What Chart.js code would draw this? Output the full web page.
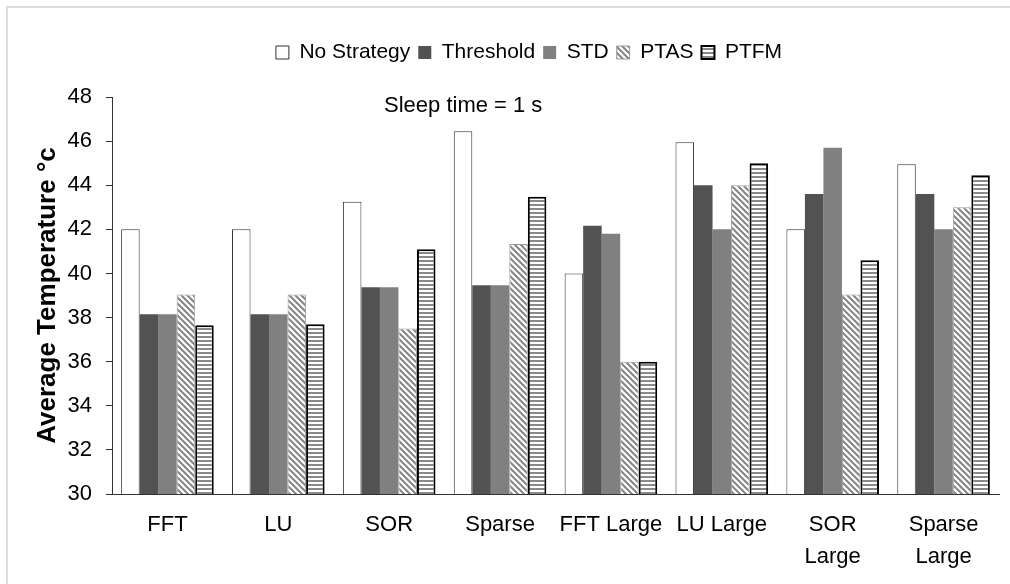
<!DOCTYPE html>
<html>
<head>
<meta charset="utf-8">
<title>Average Temperature</title>
<script src="https://cdn.jsdelivr.net/npm/chart.js@4.4.1/dist/chart.umd.min.js"></script>
<style>
    body { margin: 0; background: #fff; overflow: hidden; }
    #wrap { position: relative; width: 1010px; height: 584px; overflow: hidden; }
    #frame { position: absolute; left: 6px; top: 6px; width: 1100px; height: 700px;
             border-left: 2px solid #dcdcdc; border-top: 2px solid #dcdcdc; }
    canvas { position: absolute; left: 0; top: 0; }
</style>
</head>
<body>
<div id="wrap">
    <div id="frame"></div>
    <canvas id="chart" width="1010" height="584"></canvas>
</div>
<script>
// Data
const categories = ['FFT', 'LU', 'SOR', 'Sparse', 'FFT Large', 'LU Large', ['SOR', 'Large'], ['Sparse', 'Large']];
const seriesNames = ['No Strategy', 'Threshold', 'STD', 'PTAS', 'PTFM'];
const noStrategy = [42.0, 42.0, 43.25, 46.45, 40.0, 45.95, 42.0, 44.95];
const threshold = [38.15, 38.15, 39.37, 39.47, 42.16, 44.0, 43.6, 43.6];
const std = [38.15, 38.15, 39.37, 39.47, 41.8, 42.0, 45.7, 42.0];
const ptas = [39.05, 39.05, 37.5, 41.33, 36.0, 44.0, 39.05, 43.0];
const ptfm = [37.65, 37.7, 41.1, 43.48, 36.0, 45.0, 40.6, 44.45];
const yMin = 30;
const yMax = 48;
const yStep = 2;
const note = 'Sleep time = 1 s';

const FONT = '"Liberation Sans", Arial, sans-serif';
Chart.defaults.font.family = FONT;
Chart.defaults.color = '#000';

/**
 * Fill patterns
 */
function diagonalPattern() {
    const c = document.createElement('canvas');
    c.width = 6; c.height = 6;
    const g = c.getContext('2d');
    g.fillStyle = '#fff';
    g.fillRect(0, 0, 6, 6);
    g.strokeStyle = '#858585';
    g.lineWidth = 2;
    g.beginPath();
    g.moveTo(-1, -1); g.lineTo(7, 7);
    g.moveTo(-1, 5); g.lineTo(1, 7);
    g.moveTo(5, -1); g.lineTo(7, 1);
    g.stroke();
    return g.createPattern(c, 'repeat');
}

function horizontalPattern() {
    const c = document.createElement('canvas');
    c.width = 4; c.height = 4;
    const g = c.getContext('2d');
    g.fillStyle = '#fff';
    g.fillRect(0, 0, 4, 4);
    g.fillStyle = '#8a8a8a';
    g.fillRect(0, 0, 4, 2);
    return g.createPattern(c, 'repeat');
}

// "Sleep time" note inside the plot
const notePlugin = {
    id: 'note',
    afterDraw(chart) {
        const { ctx, chartArea } = chart;
        ctx.save();
        ctx.font = '22px ' + FONT;
        ctx.fillStyle = '#000';
        ctx.textBaseline = 'alphabetic';
        ctx.fillText(note, chartArea.left + 272, chartArea.top + 15);
        ctx.restore();
    }
};

// leave some room between legend and plot
const legendGap = {
    id: 'legendGap',
    beforeUpdate(chart) {
        const lg = chart.legend;
        if (lg && !lg._gapPatched) {
            const fit = lg.fit;
            lg.fit = function () {
                fit.call(this);
                this.height += 24;
            };
            lg._gapPatched = true;
        }
    }
};

const bar = { borderSkipped: false, categoryPercentage: 0.835, barPercentage: 1 };

new Chart(document.getElementById('chart'), {
    type: 'bar',
    data: {
        labels: categories,
        datasets: [
            { ...bar, label: seriesNames[0], data: noStrategy, backgroundColor: '#fff', borderColor: '#333', borderWidth: 1 },
            { ...bar, label: seriesNames[1], data: threshold, backgroundColor: '#525252', borderWidth: 0 },
            { ...bar, label: seriesNames[2], data: std, backgroundColor: '#808080', borderWidth: 0 },
            { ...bar, label: seriesNames[3], data: ptas, backgroundColor: diagonalPattern(), borderColor: '#9a9a9a', borderWidth: 1 },
            { ...bar, label: seriesNames[4], data: ptfm, backgroundColor: horizontalPattern(), borderColor: '#000', borderWidth: 2 }
        ]
    },
    options: {
        responsive: false,
        animation: false,
        layout: { padding: { left: 59, right: 11, top: 6, bottom: 0 } },
        plugins: {
            legend: {
                position: 'top',
                labels: { boxWidth: 13, boxHeight: 13, padding: 8, font: { size: 21 }, color: '#000' }
            },
            tooltip: { enabled: false }
        },
        scales: {
            x: {
                grid: { display: false, drawTicks: false },
                border: { display: true, color: '#333', width: 1 },
                ticks: { font: { size: 22, lineHeight: 1.45 }, padding: 15, autoSkip: false, maxRotation: 0, minRotation: 0, color: '#000' },
                afterFit: (s) => { s.height = 90; }
            },
            y: {
                min: yMin,
                max: yMax,
                ticks: { stepSize: yStep, font: { size: 22 }, padding: 14, color: '#000' },
                grid: { drawOnChartArea: false, tickLength: 6, color: '#333' },
                border: { display: true, color: '#333', width: 1 },
                title: {
                    display: true,
                    text: 'Average Temperature °c',
                    font: { size: 26, weight: 'bold' },
                    color: '#000',
                    padding: { top: -27, bottom: 0 }
                },
                afterFit: (s) => { s.width = 53; s.paddingTop = 97; }
            }
        }
    },
    plugins: [notePlugin, legendGap]
});
</script>
</body>
</html>
